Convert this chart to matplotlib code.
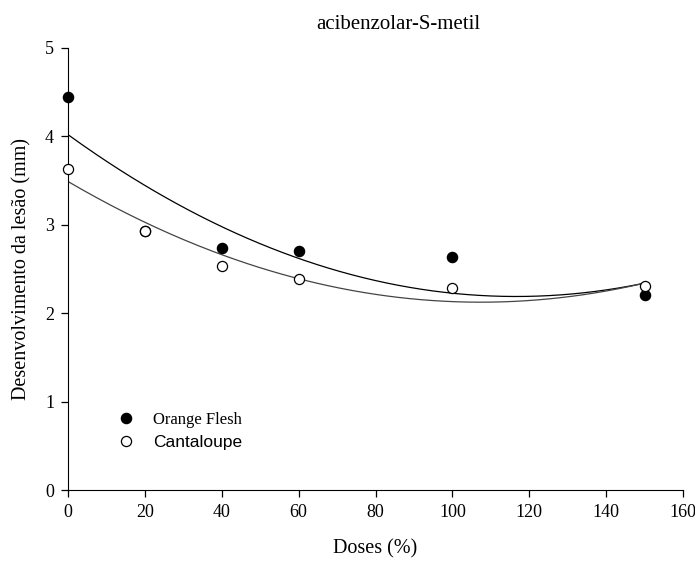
import numpy as np
import matplotlib
matplotlib.use('Agg')
import matplotlib.pyplot as plt

# doses (%) e desenvolvimento da lesao (mm)
doses = [0, 20, 40, 60, 100, 150]
orange_flesh = [4.45, 2.93, 2.74, 2.70, 2.64, 2.21]
cantaloupe = [3.63, 2.93, 2.53, 2.39, 2.28, 2.31]

# coeficientes das regressoes quadraticas (a, b, c): y = a + b*x + c*x^2
coef_orange = [4.02, -0.03142, 0.0001348]
coef_cantaloupe = [3.49, -0.02544, 0.0001185]

xticks = [0, 20, 40, 60, 80, 100, 120, 140, 160]
yticks = [0, 1, 2, 3, 4, 5]

plt.rcParams['font.family'] = 'Liberation Serif'

fig = plt.figure(figsize=(6.95, 5.62), dpi=100)
ax = fig.add_axes([0.0978, 0.1281, 0.885, 0.7865])

xs = np.linspace(min(doses), max(doses), 200)
a, b, c = coef_orange
ax.plot(xs, a + b * xs + c * xs ** 2, color='black', lw=0.9, zorder=2)
a, b, c = coef_cantaloupe
ax.plot(xs, a + b * xs + c * xs ** 2, color='#444444', lw=0.9, zorder=2)

ax.plot(doses, orange_flesh, 'o', color='black', ms=7.3, ls='none',
        label='Orange Flesh', zorder=3, clip_on=False)
ax.plot(doses, cantaloupe, 'o', mfc='white', mec='black', mew=0.9, ms=7.3,
        ls='none', label='Cantaloupe', zorder=4, clip_on=False)

ax.set_xlim(0, 160)
ax.set_ylim(0, 5)
ax.set_xticks(xticks)
ax.set_yticks(yticks)
ax.spines['top'].set_visible(False)
ax.spines['right'].set_visible(False)
ax.tick_params(direction='out', length=5, width=0.9, labelsize=13, pad=5)

ax.set_xlabel('Doses (%)', fontsize=14.5, labelpad=13)
ax.set_ylabel('Desenvolvimento da lesão (mm)', fontsize=14.5, labelpad=10)
ax.set_title('acibenzolar-S-metil', fontsize=15, x=0.537, pad=14)

leg = ax.legend(loc='lower left', bbox_to_anchor=(0.04, 0.055), frameon=False,
                handletextpad=0.6, labelspacing=0.4, fontsize=12.5)
leg.get_texts()[0].set_fontsize(12)
leg.get_texts()[1].set_family('Liberation Sans')

plt.savefig('out.png', dpi=100)
